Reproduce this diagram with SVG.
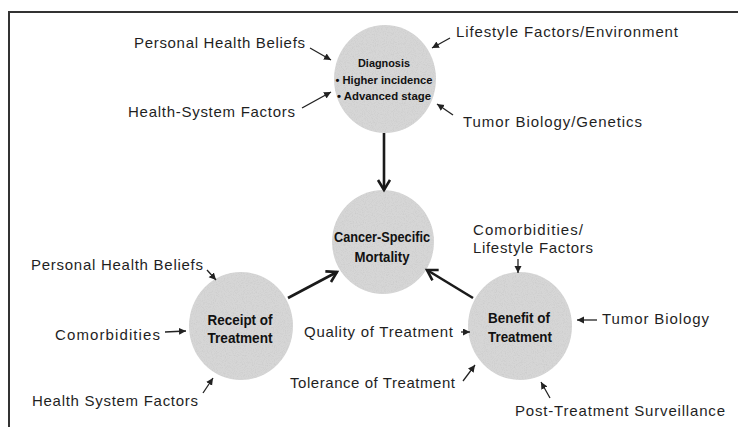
<svg xmlns="http://www.w3.org/2000/svg" width="738" height="427" viewBox="0 0 738 427">
  <style>
    .lbl { font-family: "Liberation Sans", Arial, sans-serif; font-size: 15px; fill: #1f1f1f; }
    .hd { font-family: "Liberation Sans", Arial, sans-serif; font-weight: bold; fill: #111; text-anchor: middle; }
    .node { fill: #d6d6d6; filter: url(#speckle); }
    .main { stroke: #1a1a1a; stroke-width: 2.6; fill: none; marker-end: url(#chev); }
    .thin { stroke: #222; stroke-width: 1.3; fill: none; marker-end: url(#tri); }
    .frame { stroke: #333; stroke-width: 2; fill: none; }
  </style>
  <defs>
    <!-- grainy grey fill for the circles -->
    <filter id="speckle" x="0" y="0" width="100%" height="100%">
      <feTurbulence type="fractalNoise" baseFrequency="0.9" numOctaves="2" seed="4" result="n"/>
      <feColorMatrix in="n" type="matrix" values="0 0 0 0 0.6  0 0 0 0 0.6  0 0 0 0 0.6  2.2 0 0 0 -0.95" result="g"/>
      <feComposite in="g" in2="SourceGraphic" operator="atop"/>
    </filter>
    <marker id="chev" markerUnits="userSpaceOnUse" markerWidth="16" markerHeight="16" refX="12" refY="7" orient="auto">
      <path d="M2,1 L12,7 L2,13" fill="none" stroke="#1a1a1a" stroke-width="2.6"/>
    </marker>
    <marker id="tri" markerUnits="userSpaceOnUse" markerWidth="8" markerHeight="8" refX="7" refY="3.5" orient="auto">
      <path d="M0,0 L7,3.5 L0,7 Z" fill="#222"/>
    </marker>
  </defs>

  <!-- open frame: top and left rules -->
  <path class="frame" d="M9,427 L9,12 L738,12"/>

  <!-- nodes -->
  <g id="diagnosis">
    <ellipse class="node" cx="385" cy="79" rx="51" ry="54"/>
    <text class="hd" font-size="11.5" x="384" y="67" textLength="52" lengthAdjust="spacingAndGlyphs">Diagnosis</text>
    <text class="hd" font-size="11.5" x="384" y="84" textLength="97" lengthAdjust="spacingAndGlyphs">• Higher incidence</text>
    <text class="hd" font-size="11.5" x="384" y="100" textLength="94" lengthAdjust="spacingAndGlyphs">• Advanced stage</text>
  </g>
  <g id="mortality">
    <ellipse class="node" cx="383" cy="242" rx="51" ry="52"/>
    <text class="hd" font-size="14" x="382" y="242" textLength="96" lengthAdjust="spacingAndGlyphs">Cancer-Specific</text>
    <text class="hd" font-size="14" x="382" y="262" textLength="55" lengthAdjust="spacingAndGlyphs">Mortality</text>
  </g>
  <g id="receipt">
    <ellipse class="node" cx="241" cy="326" rx="52" ry="54"/>
    <text class="hd" font-size="14" x="240" y="325" textLength="65" lengthAdjust="spacingAndGlyphs">Receipt of</text>
    <text class="hd" font-size="14" x="240" y="343" textLength="65" lengthAdjust="spacingAndGlyphs">Treatment</text>
  </g>
  <g id="benefit">
    <ellipse class="node" cx="520" cy="326" rx="52" ry="54"/>
    <text class="hd" font-size="14" x="519" y="323" textLength="62" lengthAdjust="spacingAndGlyphs">Benefit of</text>
    <text class="hd" font-size="14" x="520" y="342" textLength="64" lengthAdjust="spacingAndGlyphs">Treatment</text>
  </g>

  <!-- factor labels -->
  <g id="factors">
    <text class="lbl" x="134" y="48" textLength="171">Personal Health Beliefs</text>
    <text class="lbl" x="456" y="37" textLength="222">Lifestyle Factors/Environment</text>
    <text class="lbl" x="128" y="117" textLength="167">Health-System Factors</text>
    <text class="lbl" x="463" y="127" textLength="179">Tumor Biology/Genetics</text>
    <text class="lbl" x="31" y="270" textLength="172">Personal Health Beliefs</text>
    <text class="lbl" x="55" y="340" textLength="105">Comorbidities</text>
    <text class="lbl" x="32" y="406" textLength="166">Health System Factors</text>
    <text class="lbl" x="304" y="337" textLength="149">Quality of Treatment</text>
    <text class="lbl" x="290" y="388" textLength="165">Tolerance of Treatment</text>
    <text class="lbl" x="473" y="235" textLength="110">Comorbidities/</text>
    <text class="lbl" x="473" y="253" textLength="120">Lifestyle Factors</text>
    <text class="lbl" x="602" y="324" textLength="107">Tumor Biology</text>
    <text class="lbl" x="515" y="416" textLength="210">Post-Treatment Surveillance</text>
  </g>

  <!-- connectors -->
  <g id="connectors">
    <line class="main" x1="384" y1="133" x2="384" y2="190"/>
    <line class="main" x1="288" y1="298" x2="337" y2="272"/>
    <line class="main" x1="473" y1="298" x2="427" y2="270"/>

    <line class="thin" x1="310" y1="48" x2="331" y2="60"/>
    <line class="thin" x1="450" y1="38" x2="432" y2="48"/>
    <line class="thin" x1="302" y1="108" x2="331" y2="92"/>
    <line class="thin" x1="453" y1="115" x2="437" y2="104"/>
    <line class="thin" x1="207" y1="270" x2="216" y2="280"/>
    <line class="thin" x1="165" y1="332" x2="186" y2="331"/>
    <line class="thin" x1="203" y1="393" x2="213" y2="378"/>
    <line class="thin" x1="461" y1="332" x2="470" y2="332"/>
    <line class="thin" x1="463" y1="381" x2="475" y2="365"/>
    <line class="thin" x1="518" y1="259" x2="518" y2="273"/>
    <line class="thin" x1="597" y1="320" x2="577" y2="320"/>
    <line class="thin" x1="550" y1="398" x2="541" y2="382"/>
  </g>
</svg>
